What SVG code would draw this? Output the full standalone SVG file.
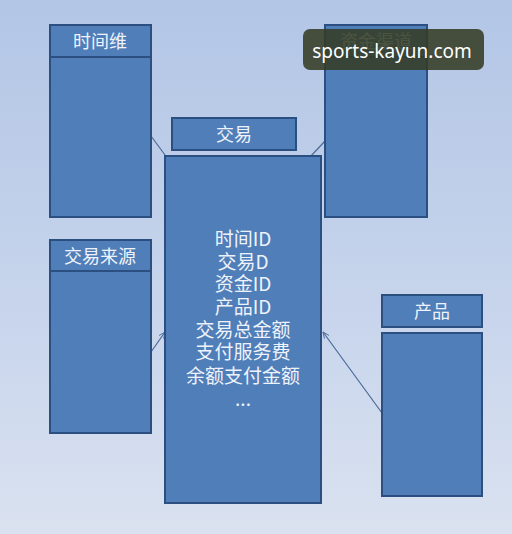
<svg xmlns="http://www.w3.org/2000/svg" width="512" height="534" viewBox="0 0 512 534">
<defs>
<linearGradient id="bg" x1="0" y1="0" x2="0" y2="1">
<stop offset="0" stop-color="#b3c6e6"/>
<stop offset="0.6" stop-color="#c8d5ec"/>
<stop offset="1" stop-color="#dae2f0"/>
</linearGradient>
<marker id="arr" viewBox="0 0 10 10" refX="9" refY="5" markerWidth="7" markerHeight="7" orient="auto" markerUnits="userSpaceOnUse">
<path d="M0,1 L9,5 L0,9" fill="none" stroke="#4a6a98" stroke-width="1.2"/>
</marker>
</defs>
<style>
.box{fill:#4f7eb9;stroke:#2c4f82;stroke-width:2}
.lbl{font-family:"Noto Sans CJK SC","Noto Sans",sans-serif;font-size:18px;fill:#eef3fb;text-anchor:middle}
.body{font-family:"Noto Sans CJK SC","Noto Sans",sans-serif;font-size:19px;fill:#eef3fb;text-anchor:middle}
.con{stroke:#4a6a98;stroke-width:1.2;fill:none}
</style>
<rect width="512" height="534" fill="url(#bg)"/>
<g id="connectors">
<line class="con" x1="151" y1="136" x2="165" y2="155"/>
<line class="con" x1="325" y1="141" x2="311" y2="156"/>
<line class="con" x1="151" y1="352" x2="165" y2="332" marker-end="url(#arr)"/>
<line class="con" x1="382" y1="413" x2="323" y2="332" marker-end="url(#arr)"/>
</g>
<g id="time">
<rect class="box" x="50" y="25" width="101" height="192"/>
<line x1="50" y1="57" x2="151" y2="57" stroke="#2c4f82" stroke-width="2"/>
<text class="lbl" x="100" y="48">时间维</text>
</g>
<g id="fund">
<rect class="box" x="325" y="25" width="102" height="192"/>
<line x1="325" y1="57" x2="427" y2="57" stroke="#2c4f82" stroke-width="2"/>
<text class="lbl" x="376" y="48">资金渠道</text>
</g>
<g id="trade-title">
<rect class="box" x="172" y="118" width="124" height="32"/>
<text class="lbl" x="234" y="141">交易</text>
</g>
<g id="trade">
<rect class="box" x="165" y="156" width="156" height="347"/>
<text class="body" x="243" y="246">时间ID</text>
<text class="body" x="243" y="269">交易D</text>
<text class="body" x="243" y="291">资金ID</text>
<text class="body" x="243" y="314">产品ID</text>
<text class="body" x="243" y="337">交易总金额</text>
<text class="body" x="243" y="359">支付服务费</text>
<text class="body" x="243" y="383">余额支付金额</text>
<text class="body" x="243" y="406">...</text>
</g>
<g id="source">
<rect class="box" x="50" y="240" width="101" height="193"/>
<line x1="50" y1="271" x2="151" y2="271" stroke="#2c4f82" stroke-width="2"/>
<text class="lbl" x="100" y="263">交易来源</text>
</g>
<g id="product-title">
<rect class="box" x="382" y="295" width="100" height="32"/>
<text class="lbl" x="432" y="318">产品</text>
</g>
<g id="product">
<rect class="box" x="382" y="333" width="100" height="163"/>
</g>
<g id="watermark">
<rect x="303" y="29" width="181" height="41" rx="7" fill="#363c24" fill-opacity="0.88"/>
<text x="392" y="58" font-family="'Noto Sans',sans-serif" font-size="19" fill="#ffffff" text-anchor="middle">sports-kayun.com</text>
</g>
</svg>
